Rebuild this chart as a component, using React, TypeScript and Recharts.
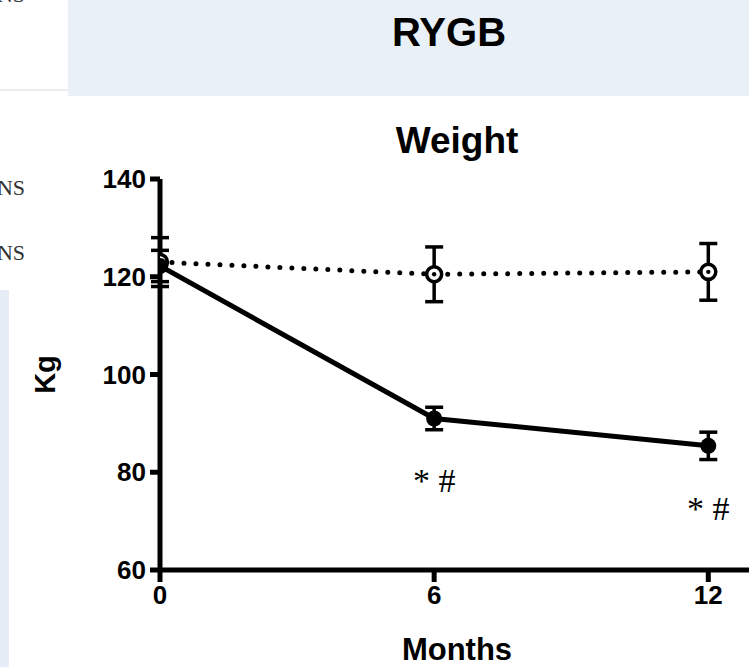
import React from 'react';
import { LineChart, Line, XAxis, YAxis, ErrorBar, LabelList, Label } from 'recharts';

const months = [0, 6, 12];
const rygbMean = [122.2, 91.0, 85.4];
const rygbErr = [3.2, 2.3, 2.8];
const controlMean = [123.0, 120.5, 121.0];
const controlErr = [5.0, 5.6, 5.8];
const annotations = ['', '* #', '* #'];
const xTicks = [0, 6, 12];
const yTicks = [60, 80, 100, 120, 140];
const sideNotes = ['NS', 'NS', 'NS'];

const data = months.map((m, i) => ({
  month: m,
  rygb: rygbMean[i],
  rygbErr: rygbErr[i],
  control: controlMean[i],
  controlErr: controlErr[i],
  note: annotations[i],
}));

const SANS = '"Liberation Sans", Arial, Helvetica, sans-serif';
const SERIF = '"Liberation Serif", "Times New Roman", serif';

const OpenDot = (props: any) => {
  const { cx, cy, index } = props;
  if (cx == null || cy == null) return <g key={`o${index}`} />;
  return (
    <g key={`o${index}`}>
      <circle cx={cx} cy={cy} r={7.5} fill="#fff" stroke="#000" strokeWidth={3.5} />
      <circle cx={cx} cy={cy} r={2.2} fill="#000" />
    </g>
  );
};

const FilledDot = (props: any) => {
  const { cx, cy, index } = props;
  if (cx == null || cy == null) return <g key={`f${index}`} />;
  return <circle key={`f${index}`} cx={cx} cy={cy} r={8} fill="#000" />;
};

const NoteLabel = (props: any) => {
  const { x, y, value } = props;
  if (!value) return null;
  return (
    <text x={x} y={y + 74} textAnchor="middle" fontFamily={SERIF} fontSize={34} fill="#000">
      {value}
    </text>
  );
};

const KgLabel = (props: any) => {
  const vb = props.viewBox || {};
  const cx = vb.x - 55;
  const cy = vb.y + vb.height / 2;
  return (
    <text
      x={cx}
      y={cy}
      transform={`rotate(-90 ${cx} ${cy})`}
      textAnchor="middle"
      dominantBaseline="central"
      fontFamily={SANS}
      fontWeight={700}
      fontSize={29}
      fill="#000"
    >
      Kg
    </text>
  );
};

const MonthsLabel = (props: any) => {
  const vb = props.viewBox || {};
  return (
    <text
      x={vb.x + vb.width / 2}
      y={vb.y + 90}
      textAnchor="middle"
      fontFamily={SANS}
      fontWeight={700}
      fontSize={31}
      fill="#000"
    >
      Months
    </text>
  );
};

export default function App() {
  return (
    <div
      style={{
        position: 'absolute',
        left: 0,
        top: 0,
        width: 749,
        height: 667,
        overflow: 'hidden',
        background: '#fff',
      }}
    >
      <div style={{ position: 'absolute', left: 68, top: 0, width: 681, height: 96, background: '#eaf0f8' }} />
      <div style={{ position: 'absolute', left: 0, top: 89, width: 68, height: 2, background: '#ececec' }} />
      <div style={{ position: 'absolute', left: 0, top: 290, width: 9, height: 377, background: '#e6edf7' }} />
      <div
        style={{
          position: 'absolute',
          left: 249,
          top: 8,
          width: 400,
          textAlign: 'center',
          fontFamily: SANS,
          fontWeight: 700,
          fontSize: 40,
          lineHeight: '48px',
          color: '#000',
        }}
      >
        RYGB
      </div>
      <div
        style={{
          position: 'absolute',
          left: 257,
          top: 120,
          width: 400,
          textAlign: 'center',
          fontFamily: SANS,
          fontWeight: 700,
          fontSize: 37,
          lineHeight: '42px',
          color: '#000',
        }}
      >
        Weight
      </div>
      {sideNotes.map((t, i) => (
        <div
          key={i}
          style={{
            position: 'absolute',
            right: 749 - 25,
            top: [-18, 175, 240][i],
            fontFamily: SERIF,
            fontSize: 22,
            lineHeight: '26px',
            color: '#333',
            whiteSpace: 'nowrap',
          }}
        >
          {t}
        </div>
      ))}
      <div style={{ position: 'absolute', left: 0, top: 0 }}>
        <LineChart
          width={760}
          height={667}
          data={data}
          margin={{ top: 179, right: 6, bottom: 67, left: 100 }}
        >
          <XAxis
            dataKey="month"
            type="number"
            domain={[0, 13]}
            ticks={xTicks}
            allowDataOverflow
            height={30}
            axisLine={{ stroke: '#000', strokeWidth: 5 }}
            tickLine={{ stroke: '#000', strokeWidth: 5 }}
            tickSize={12}
            tickMargin={4}
            tick={{ fill: '#000', fontSize: 26, fontWeight: 700, fontFamily: SANS }}
          >
            <Label content={MonthsLabel} />
          </XAxis>
          <YAxis
            type="number"
            domain={[60, 140]}
            ticks={yTicks}
            width={60}
            axisLine={{ stroke: '#000', strokeWidth: 5 }}
            tickLine={{ stroke: '#000', strokeWidth: 5 }}
            tickSize={10}
            tickMargin={4}
            tick={{ fill: '#000', fontSize: 26, fontWeight: 700, fontFamily: SANS }}
          >
            <Label content={KgLabel} />
          </YAxis>
          <Line
            type="linear"
            dataKey="control"
            stroke="#000"
            strokeWidth={5}
            strokeDasharray="0 12"
            strokeLinecap="round"
            dot={OpenDot}
            activeDot={false}
            isAnimationActive={false}
          >
            <ErrorBar dataKey="controlErr" direction="y" width={9} stroke="#000" strokeWidth={3.5} />
          </Line>
          <Line
            type="linear"
            dataKey="rygb"
            stroke="#000"
            strokeWidth={5}
            dot={FilledDot}
            activeDot={false}
            isAnimationActive={false}
          >
            <ErrorBar dataKey="rygbErr" direction="y" width={9} stroke="#000" strokeWidth={3.5} />
            <LabelList dataKey="note" content={NoteLabel} />
          </Line>
        </LineChart>
      </div>
    </div>
  );
}
